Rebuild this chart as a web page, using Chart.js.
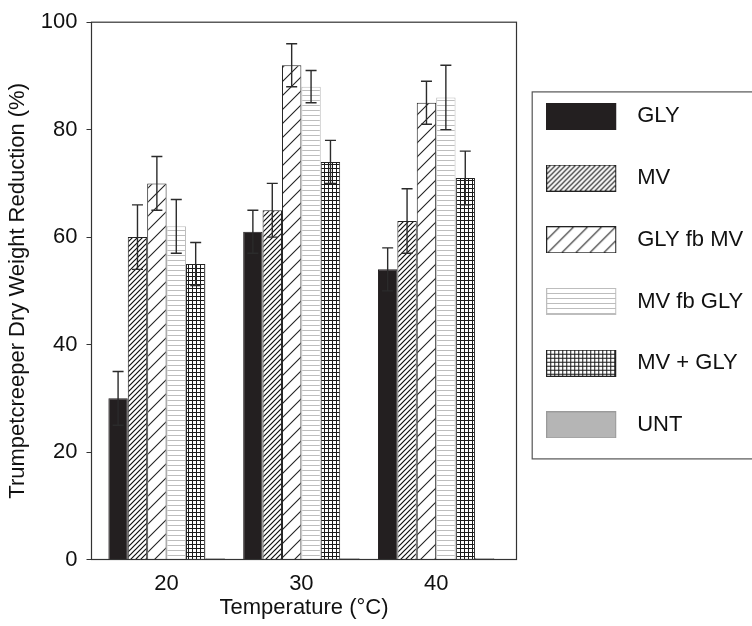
<!DOCTYPE html>
<html lang="en">
<head>
<meta charset="UTF-8">
<title>Trumpetcreeper Dry Weight Reduction</title>
<script src="https://cdn.jsdelivr.net/npm/chart.js"></script>
<style>
  html, body { margin: 0; padding: 0; background: #fff; }
  #wrap { width: 752px; height: 626px; }
</style>
</head>
<body>
<div id="wrap"><canvas id="chart" width="752" height="626"></canvas></div>
<script>
// data
const temps = [20, 30, 40];
const treatments = ['GLY', 'MV', 'GLY fb MV', 'MV fb GLY', 'MV + GLY', 'UNT'];
const gly      = [30, 61, 54];
const mv       = [60, 65, 63];
const glyFbMv  = [70, 92, 85];
const mvFbGly  = [62, 88, 86];
const mvPlusGly = [55, 74, 71];
const unt      = [0.3, 0.3, 0.3];
const glyErr      = [5, 4, 4];
const mvErr       = [6, 5, 6];
const glyFbMvErr  = [5, 4, 4];
const mvFbGlyErr  = [5, 3, 6];
const mvPlusGlyErr = [4, 4, 5];
const untErr      = [0, 0, 0];
const yTicks = [0, 20, 40, 60, 80, 100];
const xTicks = [20, 30, 40];

const FONT = "'Liberation Sans', Arial, sans-serif";
const ctx = document.getElementById('chart').getContext('2d');

// hatch tiles
function tile(size, draw) {
  const c = document.createElement('canvas');
  c.width = c.height = size;
  const g = c.getContext('2d');
  g.fillStyle = '#fff';
  g.fillRect(0, 0, size, size);
  draw(g, size);
  return c;
}
function diag(color, width) {
  return (g, s) => {
    g.strokeStyle = color;
    g.lineWidth = width;
    g.beginPath();
    g.moveTo(0, s); g.lineTo(s, 0);
    g.moveTo(-2, 2); g.lineTo(2, -2);
    g.moveTo(s - 2, s + 2); g.lineTo(s + 2, s - 2);
    g.stroke();
  };
}
const tiles = [
  null,
  tile(5, diag('#111', 1.2)),
  tile(14, diag('#222', 1.1)),
  tile(5, (g, s) => { g.fillStyle = '#bdbdbd'; g.fillRect(0, 0, s, 1); }),
  tile(4, (g, s) => { g.fillStyle = '#1a1a1a'; g.fillRect(0, 0, s, 1); g.fillRect(0, 0, 1, s); }),
  null
];
const solid = ['#231f20', null, null, null, null, '#b5b5b5'];
const borders = ['#231f20', '#222', '#222', '#bdbdbd', '#222', '#9a9a9a'];

function fillFor(g, i) {
  return tiles[i] ? g.createPattern(tiles[i], 'repeat') : solid[i];
}

function legendIcon(i) {
  const c = document.createElement('canvas');
  c.width = 90; c.height = 27;
  const g = c.getContext('2d');
  g.fillStyle = fillFor(g, i);
  g.fillRect(0.5, 0.5, 69, 26);
  g.strokeStyle = borders[i];
  g.lineWidth = 1;
  g.strokeRect(0.5, 0.5, 69, 26);
  return c;
}
const icons = treatments.map((_, i) => legendIcon(i));

const values = [gly, mv, glyFbMv, mvFbGly, mvPlusGly, unt];
const errors = [glyErr, mvErr, glyFbMvErr, mvFbGlyErr, mvPlusGlyErr, untErr];

const errorBars = {
  id: 'errorBars',
  afterDatasetsDraw(chart) {
    const c = chart.ctx, y = chart.scales.y;
    c.save();
    c.strokeStyle = '#2b2b2b';
    c.lineWidth = 1.4;
    chart.data.datasets.forEach((ds, di) => {
      chart.getDatasetMeta(di).data.forEach((bar, i) => {
        const e = ds.errors[i];
        if (!e) return;
        const v = ds.data[i].y;
        const t = y.getPixelForValue(v + e), b = y.getPixelForValue(v - e);
        c.beginPath();
        c.moveTo(bar.x, t); c.lineTo(bar.x, b);
        c.moveTo(bar.x - 5.5, t); c.lineTo(bar.x + 5.5, t);
        c.moveTo(bar.x - 5.5, b); c.lineTo(bar.x + 5.5, b);
        c.stroke();
      });
    });
    c.restore();
  }
};

const frames = {
  id: 'frames',
  afterDraw(chart) {
    const c = chart.ctx, a = chart.chartArea;
    c.save();
    c.strokeStyle = '#333';
    c.lineWidth = 1.2;
    c.strokeRect(a.left, a.top, a.right - a.left, a.bottom - a.top);
    const hb = chart.legend.legendHitBoxes;
    if (hb && hb.length) {
      const top = hb[0].top - 13.5;
      const bottom = hb[hb.length - 1].top + hb[hb.length - 1].height + 23;
      const left = hb[0].left - 24;
      c.strokeStyle = '#555';
      c.strokeRect(left, top, chart.width + 5 - left, bottom - top);
    }
    c.restore();
  }
};

new Chart(ctx, {
  type: 'bar',
  data: {
    datasets: treatments.map((name, i) => ({
      label: name,
      data: temps.map((t, k) => ({ x: t, y: values[i][k] })),
      errors: errors[i],
      backgroundColor: fillFor(ctx, i),
      borderColor: borders[i],
      borderWidth: 1,
      categoryPercentage: 0.8635,
      barPercentage: 1
    }))
  },
  options: {
    responsive: false,
    animation: false,
    layout: { padding: { top: 18.5, left: 0, right: 0, bottom: 0 } },
    scales: {
      x: {
        type: 'linear',
        offset: false,
        min: 14.43,
        max: 45.96,
        afterBuildTicks: s => { s.ticks = xTicks.map(v => ({ value: v })); },
        afterFit: s => { s.height = 66.5; },
        grid: { display: false, drawTicks: false },
        border: { display: false },
        ticks: { padding: 11.5, color: '#111', font: { family: FONT, size: 22 } },
        title: {
          display: true, text: 'Temperature (°C)', color: '#111',
          font: { family: FONT, size: 22 }, padding: { top: 0, bottom: 5 }
        }
      },
      y: {
        min: 0,
        max: 100,
        afterBuildTicks: s => { s.ticks = yTicks.map(v => ({ value: v })); },
        afterFit: s => { s.width = 91.5; },
        grid: { display: true, drawOnChartArea: false, drawTicks: true, tickLength: 5, color: '#333' },
        border: { display: false },
        ticks: { padding: 9, color: '#111', font: { family: FONT, size: 22 } },
        title: {
          display: true, text: 'Trumpetcreeper Dry Weight Reduction (%)', color: '#111',
          font: { family: FONT, size: 22 }, padding: { top: 5, bottom: 0 }
        }
      }
    },
    plugins: {
      tooltip: { enabled: false },
      legend: {
        position: 'right',
        align: 'start',
        fullSize: false,
        maxWidth: 235.5,
        title: { display: true, text: '', font: { size: 10, lineHeight: 1 }, padding: { top: 33.5, bottom: 0 } },
        labels: {
          usePointStyle: true,
          pointStyleWidth: 70,
          padding: 39.7,
          color: '#111',
          font: { family: FONT, size: 22 },
          generateLabels(chart) {
            const items = Chart.defaults.plugins.legend.labels.generateLabels(chart);
            items.forEach((it, i) => { it.pointStyle = icons[i]; });
            return items;
          }
        }
      }
    }
  },
  plugins: [errorBars, frames]
});
</script>
</body>
</html>
